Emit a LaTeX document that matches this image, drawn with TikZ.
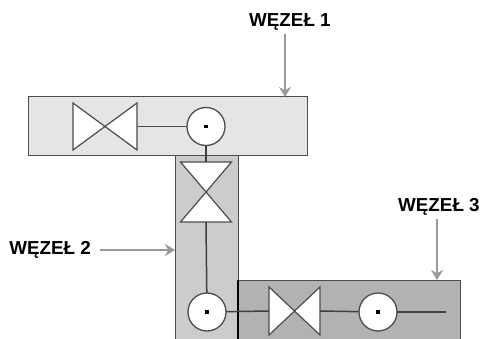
\documentclass[tikz,border=0pt]{standalone}
\usepackage{fontspec}
\setmainfont{Liberation Sans}
\usetikzlibrary{arrows.meta}
\tikzstyle{wezel}=[draw=black!70,line width=1pt,inner sep=0pt,outer sep=0pt]
\tikzstyle{valve}=[inner sep=0pt,outer sep=0pt]
\tikzstyle{valveline}=[draw=black!70,fill=white,line width=1.2pt,line join=miter]
\tikzstyle{pump}=[circle,draw=black!70,fill=white,line width=1.3pt,minimum size=38pt,inner sep=0pt,outer sep=0pt]
\tikzstyle{pipe}=[black!75,line width=1.5pt]
\tikzstyle{label}=[font=\fontsize{18.8}{19}\selectfont\bfseries,inner sep=0pt]
\tikzstyle{pointer}=[black!40,line width=2.6pt,-{Stealth[length=10pt,width=12pt]}]
\tikzstyle{shaft}=[rectangle,fill=black,minimum size=3.6pt,inner sep=0pt]

\begin{document}
\begin{tikzpicture}[x=1pt,y=-1pt]
	\useasboundingbox (0,0) rectangle (481,339);
	% boxes
	\node [wezel,fill=black!20,anchor=north west,minimum width=63pt,minimum height=183pt] (box2) at (175,156) {};
	\node [wezel,fill=black!10,anchor=north west,minimum width=279pt,minimum height=59pt] (box1) at (28,97) {};
	\node [wezel,fill=black!30,anchor=north west,minimum width=222pt,minimum height=59pt] (box3) at (238,280) {};
	\draw [black,line width=1.2pt] (box3.north west) -- (box3.south west);
	% valves
	\node [valve,minimum width=64pt,minimum height=47pt] (valve1) at (105,126.5) {};
	\node [valve,minimum width=51pt,minimum height=60pt] (valve2) at (206,192) {};
	\node [valve,minimum width=51pt,minimum height=48pt] (valve3) at (294.5,311) {};
	\draw [valveline] (valve1.north west) -- (valve1.south east) -- (valve1.north east) -- (valve1.south west) -- cycle;
	\draw [valveline] (valve2.north west) -- (valve2.north east) -- (valve2.south west) -- (valve2.south east) -- cycle;
	\draw [valveline] (valve3.north west) -- (valve3.south east) -- (valve3.north east) -- (valve3.south west) -- cycle;
	% pumps
	\node [pump] (pump1) at (206,126.5) {};
	\node [pump] (pump2) at (207,312) {};
	\node [pump] (pump3) at (378,312) {};
	\foreach \p in {pump1,pump2,pump3}
		\node [shaft] (\p dot) at (\p) {};
	% pipes
	\coordinate (pipeend) at (446,312);
	\draw [black!70,line width=0.9pt] (valve1.east) -- (pump1);
	\draw [pipe] (pump1) -- (valve2.north);
	\draw [pipe] (valve2.south) -- (pump2);
	\draw [pipe] (pump2) -- (valve3.west);
	\draw [pipe] (valve3.east) -- (pump3);
	\draw [pipe] (pump3) -- (pipeend);
	% labels
	\node [label,anchor=west] (label1) at (249,22) {WĘZEŁ 1};
	\node [label,anchor=east] (label2) at (91,250) {WĘZEŁ 2};
	\node [label,anchor=west] (label3) at (398,207) {WĘZEŁ 3};
	\coordinate (from1) at (285,34);
	\coordinate (from3) at (437,219);
	\draw [pointer] (from1) -- (from1 |- box1.north);
	\draw [pointer] (label2.east -| 100,0) -- (label2.east -| box2.west);
	\draw [pointer] (from3) -- (from3 |- box3.north);
\end{tikzpicture}
\end{document}
